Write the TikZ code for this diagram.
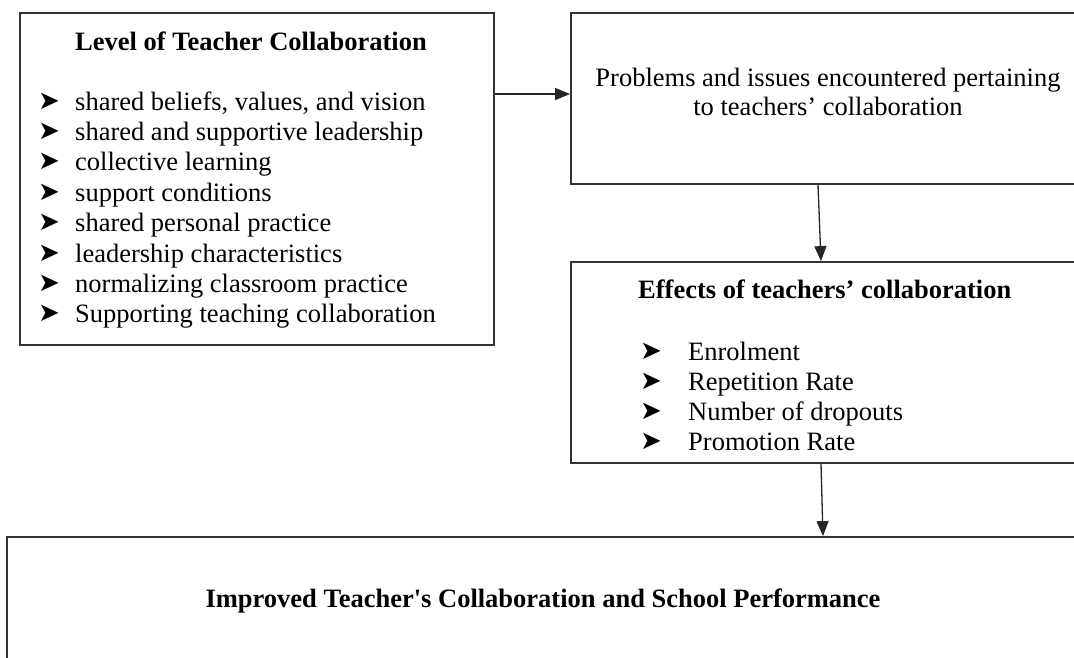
\documentclass[tikz,border=0pt]{standalone}
\usepackage{fontspec}
\setmainfont{Liberation Serif}
\newfontfamily\dingfont{DejaVu Sans}
\usetikzlibrary{arrows.meta}

\tikzset{
  frame/.style={draw=black!80, line width=1.8pt, rectangle, inner sep=0pt},
  flow/.style={draw=black!85, line width=1.3pt, -{Triangle[length=15pt,width=12pt]}},
  txt/.style={anchor=base west, inner sep=0pt, font=\fontsize{26.5}{30}\selectfont},
  ttl/.style={txt, font=\fontsize{26.5}{30}\selectfont\bfseries},
  ctr/.style={txt, anchor=base},
  bul/.style={anchor=base west, inner sep=0pt, font=\dingfont\fontsize{26}{30}\selectfont},
}

\begin{document}
\begin{tikzpicture}[x=1pt, y=-1pt]
  \useasboundingbox (0,0) rectangle (1074,657);
  \clip (0,0) rectangle (1074,657);

  % boxes (the right-hand and lower boxes run past the page edge)
  \node[frame, minimum width=474pt, minimum height=332pt] (lvl) at (257,179) {};
  \node[frame, minimum width=505pt, minimum height=171pt] (prob) at (823.5,98.5) {};
  \node[frame, minimum width=505pt, minimum height=201pt] (eff) at (823.5,362.5) {};
  \node[frame, minimum width=1069pt, minimum height=123pt] (imp) at (541.5,598.5) {};

  % level of teacher collaboration
  \node[ttl] (lvlT) at (75,50) {Level of Teacher Collaboration};
  \foreach \i/\t in {1/{shared beliefs, values, and vision},
                     2/{shared and supportive leadership},
                     3/{collective learning},
                     4/{support conditions},
                     5/{shared personal practice},
                     6/{leadership characteristics},
                     7/{normalizing classroom practice},
                     8/{Supporting teaching collaboration}}{
    \node[bul] (lvlB\i) at (38,{109+30.4*(\i-1)}) {➤};
    \node[txt] (lvlI\i) at (75,{110+30.4*(\i-1)}) {\t};
  }

  % problems
  \node[ctr] (probA) at (828,86) {Problems and issues encountered pertaining};
  \node[ctr] (probB) at (828,115) {to teachers’ collaboration};

  % effects
  \node[ttl] (effT) at (638,298) {Effects of teachers’ collaboration};
  \foreach \i/\t in {1/{Enrolment}, 2/{Repetition Rate},
                     3/{Number of dropouts}, 4/{Promotion Rate}}{
    \node[bul] (effB\i) at (640,{359+30*(\i-1)}) {➤};
    \node[txt] (effI\i) at (688,{360+30*(\i-1)}) {\t};
  }

  % outcome
  \node[ttl, anchor=base] (impT) at (543,607) {Improved Teacher\textquotesingle s Collaboration and School Performance};

  % connectors
  \coordinate (row) at (0,94);
  \coordinate (c1) at (818,0);
  \coordinate (c2) at (821,0);
  \coordinate (c3) at (823,0);
  \draw[flow] (lvl.east |- row) -- (prob.west |- row);
  \draw[flow] (prob.south -| c1) -- (eff.north -| c2);
  \draw[flow] (eff.south -| c2) -- (imp.north -| c3);
\end{tikzpicture}
\end{document}
